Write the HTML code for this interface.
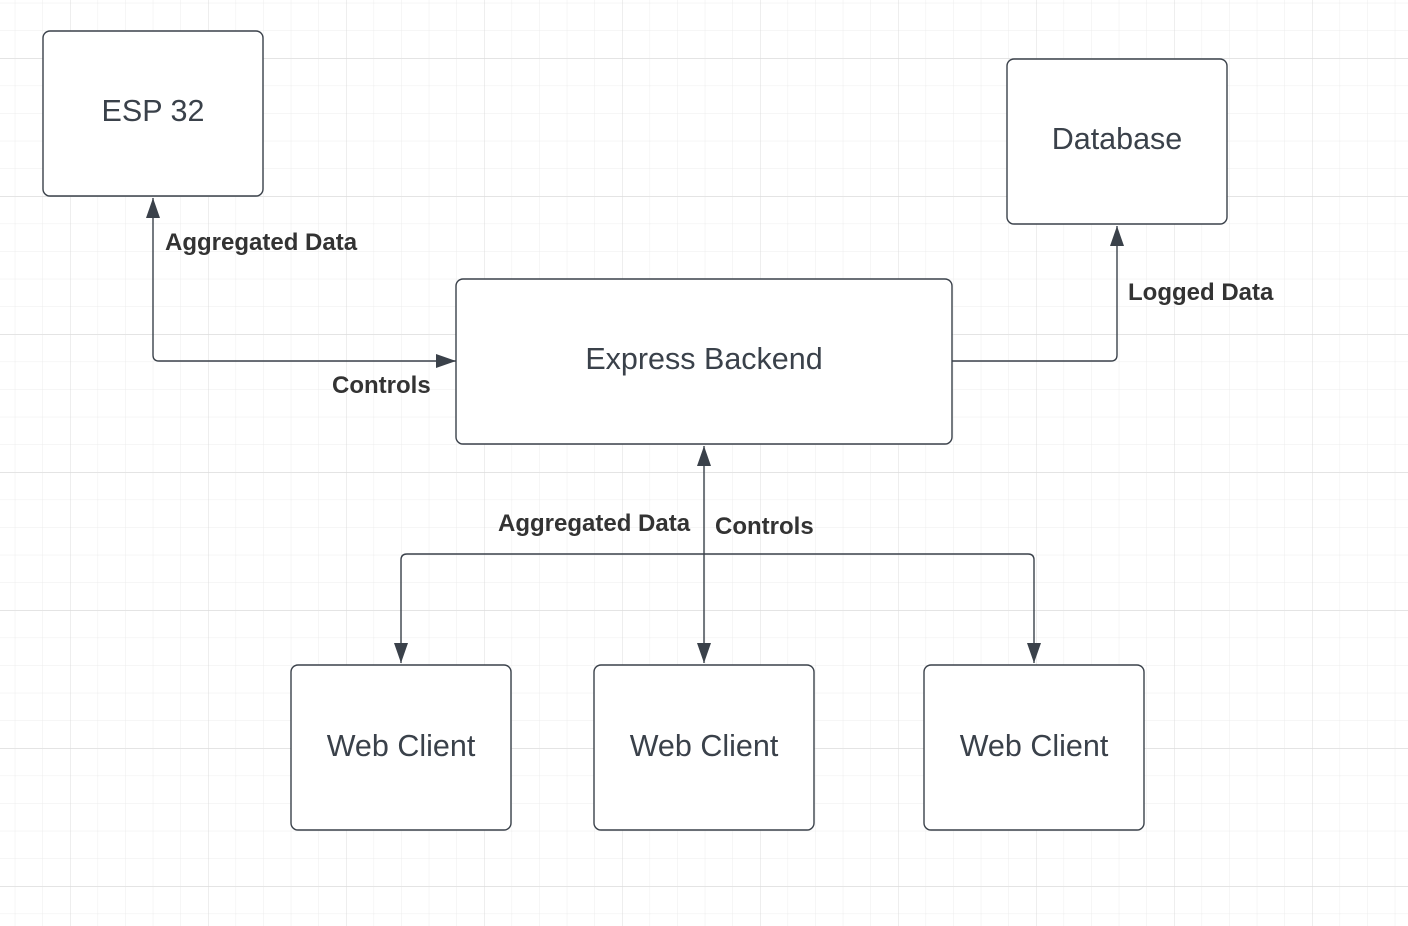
<!DOCTYPE html>
<html><head><meta charset="utf-8"><style>
html,body{margin:0;padding:0;background:#fff;}
svg{display:block;}
text{font-family:"Liberation Sans",sans-serif;}
</style></head><body>
<svg width="1408" height="926" viewBox="0 0 1408 926" xmlns="http://www.w3.org/2000/svg">
<defs>
<pattern id="minor" x="14.8" y="2.8" width="27.6" height="27.6" patternUnits="userSpaceOnUse">
<path d="M0 0H27.6M0 0V27.6" stroke="#ececec" stroke-width="1" fill="none"/>
</pattern>
<pattern id="major" x="70" y="58.5" width="138" height="138" patternUnits="userSpaceOnUse">
<path d="M0 0H138M0 0V138" stroke="#dcdcdc" stroke-width="1" fill="none"/>
</pattern>
<marker id="ah2" viewBox="0 0 20 14" refX="20" refY="7" markerWidth="20" markerHeight="14" markerUnits="userSpaceOnUse" orient="auto-start-reverse">
<path d="M0 0L20 7L0 14Z" fill="#3a414a"/>
</marker>
</defs>
<rect width="1408" height="926" fill="url(#minor)"/>
<rect width="1408" height="926" fill="url(#major)"/>
<g fill="#fff" stroke="#3a414a" stroke-width="1.4">
<rect x="43" y="31" width="220" height="165" rx="7"/>
<rect x="1007" y="59" width="220" height="165" rx="7"/>
<rect x="456" y="279" width="496" height="165" rx="7"/>
<rect x="291" y="665" width="220" height="165" rx="7"/>
<rect x="594" y="665" width="220" height="165" rx="7"/>
<rect x="924" y="665" width="220" height="165" rx="7"/>
</g>
<g fill="none" stroke="#3a414a" stroke-width="1.4">
<path d="M153 198V355Q153 361 159 361H456" marker-start="url(#ah2)" marker-end="url(#ah2)"/>
<path d="M952 361H1111Q1117 361 1117 355V226" marker-end="url(#ah2)"/>
<path d="M704 446V663" marker-start="url(#ah2)" marker-end="url(#ah2)"/>
<path d="M401 663V560Q401 554 407 554H1028Q1034 554 1034 560V663" marker-start="url(#ah2)" marker-end="url(#ah2)"/>
</g>
<g fill="#3a414a" font-size="30.5" text-anchor="middle">
<text x="153" y="121">ESP 32</text>
<text x="1117" y="149">Database</text>
<text x="704" y="369">Express Backend</text>
<text x="401" y="756">Web Client</text>
<text x="704" y="756">Web Client</text>
<text x="1034" y="756">Web Client</text>
</g>
<g fill="#333" font-size="24" font-weight="bold">
<text x="165" y="250">Aggregated Data</text>
<text x="332" y="393">Controls</text>
<text x="1128" y="300">Logged Data</text>
<text x="498" y="531">Aggregated Data</text>
<text x="715" y="534">Controls</text>
</g>
</svg>
</body></html>
